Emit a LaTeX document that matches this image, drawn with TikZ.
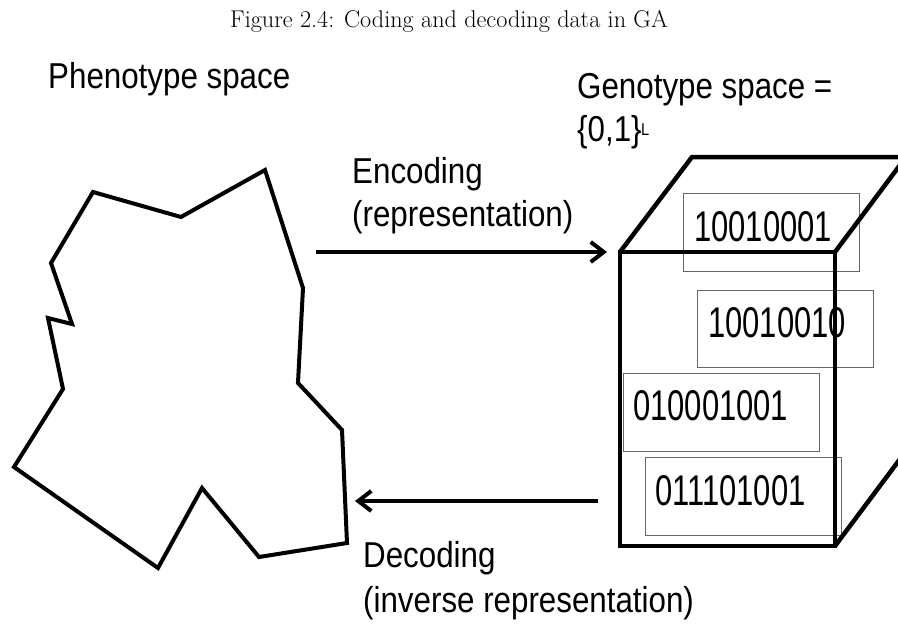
\documentclass[tikz,border=0pt]{standalone}
\usepackage{fontspec}
\newfontfamily\labfont[FakeStretch=0.87]{Liberation Sans}
\newfontfamily\digfont[FakeStretch=0.72]{Liberation Sans}
\usetikzlibrary{arrows.meta}
\begin{document}
\begin{tikzpicture}[x=1pt,y=-1pt,
  lab/.style={font=\labfont\fontsize{36}{40}\selectfont, inner sep=0pt, anchor=base west},
  dig/.style={font=\digfont\fontsize{43}{48}\selectfont, inner sep=0pt, anchor=base west},
  gbox/.style={draw=black!60, line width=1.2pt, inner sep=0pt, anchor=north west},
  shapeline/.style={line width=4pt, line join=miter},
  arr/.style={line width=4pt, -{Straight Barb[length=13pt,width=20pt]}},
]
\useasboundingbox (0,0) rectangle (898,625);
\clip (0,0) rectangle (898,625);

% title
\node[font=\fontsize{24.2}{28}\selectfont, anchor=base, inner sep=0pt] (title) at (449,27) {Figure 2.4: Coding and decoding data in GA};

% phenotype polygon
\draw[shapeline] (93,192) -- (181,217) -- (265,170) -- (303,288) -- (298,383) -- (342,430) -- (347,543) -- (259,557) -- (202,488) -- (158,568) -- (14,467) -- (63,389) -- (48,318) -- (72,324) -- (51,263) -- cycle;

% labels
\node[lab] (pheno) at (48,88) {Phenotype space};
\node[lab] (geno) at (577,98) {Genotype space =};
\node[lab] (geno2) at (577,141) {\{0,1\}};
\node[font=\labfont\fontsize{17}{17}\selectfont, inner sep=0pt, anchor=base west] (supL) at (641,135) {L};
\node[lab] (enc1) at (352,183) {Encoding};
\node[lab] (enc2) at (352,226) {(representation)};
\node[lab] (dec1) at (363,567) {Decoding};
\node[lab] (dec2) at (363,612) {(inverse representation)};

% gray boxes
\node[gbox, minimum width=176pt, minimum height=78pt] (b1) at (683,193) {};
\node[gbox, minimum width=176pt, minimum height=77pt] (b2) at (697,290) {};
\node[gbox, minimum width=196pt, minimum height=78pt] (b3) at (623,373) {};
\node[gbox, minimum width=196pt, minimum height=78pt] (b4) at (645,457) {};
\node[dig] (t1) at (694,241) {10010001};
\node[dig] (t2) at (708,337) {10010010};
\node[dig] (t3) at (633,420) {010001001};
\node[dig] (t4) at (655,505) {011101001};

% cube
\draw[shapeline, line width=4.5pt] (620,252) rectangle (835,546);
\draw[shapeline, line width=4.5pt] (620,252) -- (692,157) -- (906,157) -- (835,252);
\draw[shapeline, line width=4.5pt] (835,546) -- (906,451);

% arrows
\coordinate (encS) at (316,252);
\coordinate (encE) at (607,252);
\coordinate (decS) at (598,501);
\coordinate (decE) at (355,501);
\draw[arr] (encS) -- (encE);
\draw[arr] (decS) -- (decE);
\end{tikzpicture}
\end{document}
